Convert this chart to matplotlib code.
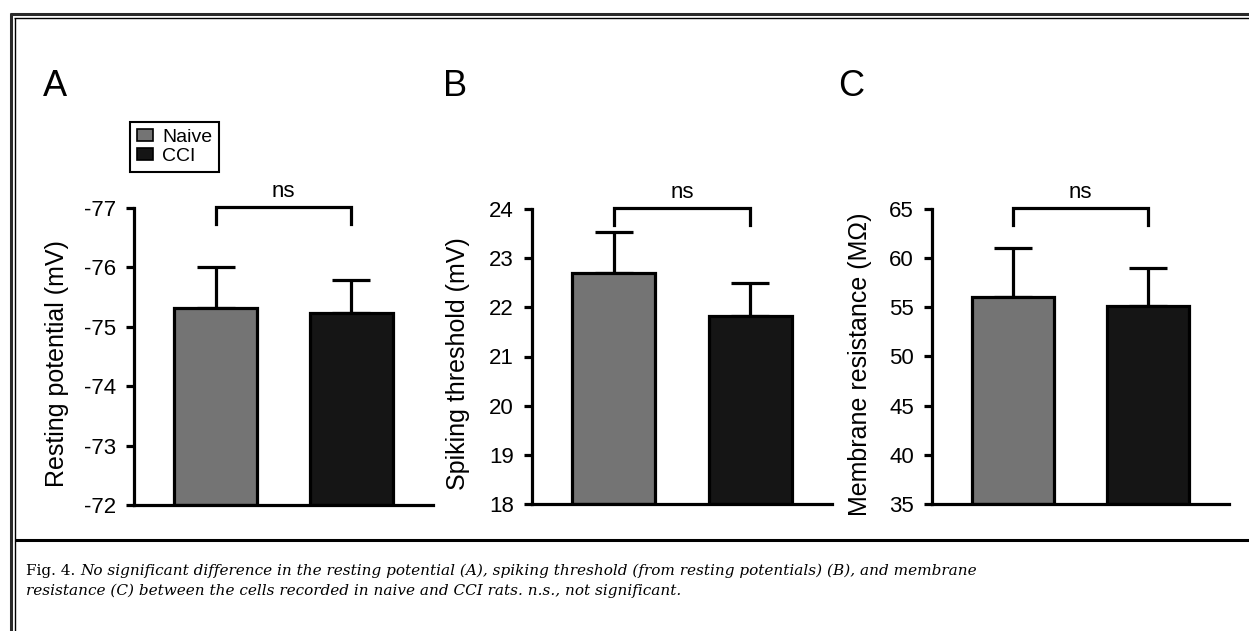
import numpy as np
import matplotlib
matplotlib.use("Agg")
import matplotlib.pyplot as plt
from matplotlib.lines import Line2D
from matplotlib.patches import Patch

plt.rcParams['font.family'] = ['Liberation Sans', 'DejaVu Sans']
plt.rcParams['axes.unicode_minus'] = False

# data (mean and SEM, one-sided error bars)
groups = ['Naive', 'CCI']
bar_colors = ['#747474', '#151515']

resting_mean = [-75.31, -75.24]
resting_sem = [0.69, 0.55]
threshold_mean = [22.70, 21.83]
threshold_sem = [0.84, 0.66]
resistance_mean = [56.1, 55.1]
resistance_sem = [4.9, 3.9]

panel_letters = ['A', 'B', 'C']
ylabels = ['Resting potential (mV)', 'Spiking threshold (mV)', 'Membrane resistance (M\u03a9)']
ylims = [(-72, -77), (18, 24), (35, 65)]
yticks = [np.arange(-77, -71), np.arange(18, 25), np.arange(35, 66, 5)]

caption_1a = 'Fig. 4. '
caption_1b = ('No significant difference in the resting potential (A), spiking threshold '
              '(from resting potentials) (B), and membrane')
caption_2 = 'resistance (C) between the cells recorded in naive and CCI rats. n.s., not significant.'

W, H = 1249, 631
fig = plt.figure(figsize=(W / 100, H / 100), dpi=100)


def px(x, y):
    # pixel coords (from top-left) -> figure fraction
    return x / W, 1 - y / H


# axes boxes in pixels: left, right, top, bottom
boxes = [(134, 433, 208, 505), (532, 832, 209, 504), (932, 1229, 209, 504)]
label_off = [65, 62, 60]
lw = 2.3

means = [resting_mean, threshold_mean, resistance_mean]
sems = [resting_sem, threshold_sem, resistance_sem]

axes = []
for i in range(3):
    l, r, t, b = boxes[i]
    ax = fig.add_axes([l / W, 1 - b / H, (r - l) / W, (b - t) / H])
    axes.append(ax)
    x = np.arange(len(groups))
    lo, hi = ylims[i]
    m = np.array(means[i])
    s = np.array(sems[i])
    # error bars toward the top of the panel
    if lo > hi:
        yerr = [s, np.zeros_like(s)]
    else:
        yerr = [np.zeros_like(s), s]
    ax.errorbar(x, m, yerr=yerr, fmt='none', ecolor='black', elinewidth=lw,
                capsize=14, capthick=lw, zorder=1)
    ax.bar(x, m - lo, bottom=lo, width=0.61, color=bar_colors,
           edgecolor='black', linewidth=lw, zorder=2)
    ax.set_ylim(lo, hi)
    ax.set_xlim(-0.6, 1.6)
    ax.set_yticks(yticks[i])
    ax.set_xticks([])
    for sp in ['top', 'right']:
        ax.spines[sp].set_visible(False)
    for sp in ['left', 'bottom']:
        ax.spines[sp].set_linewidth(lw)
    ax.tick_params(axis='y', width=lw, length=6, labelsize=16, pad=7)
    ax.set_ylabel(ylabels[i], fontsize=18)
    ax.yaxis.set_label_coords(-label_off[i] / (r - l), 0.475)

    # significance bracket
    tr = ax.get_xaxis_transform()
    ax.plot([0, 0, 1, 1], [0.946, 1.005, 1.005, 0.946], color='black', lw=lw,
            transform=tr, clip_on=False, solid_joinstyle='miter')
    ax.text(0.5, 1.02, 'ns', transform=tr, ha='center', va='bottom', fontsize=16)

# panel letters
for letter, xpx in zip(panel_letters, [43, 443, 838]):
    fx, fy = px(xpx, 87)
    fig.text(fx, fy, letter, fontsize=26, ha='left', va='center')

# legend
handles = [Patch(facecolor=c, edgecolor='black', linewidth=1.2) for c in bar_colors]
lx, ly = px(130, 122)
leg = fig.legend(handles, groups, loc='upper left', bbox_to_anchor=(lx, ly),
                 fontsize=14, frameon=True, fancybox=False, framealpha=1,
                 edgecolor='black', handlelength=0.85, handleheight=0.55,
                 handletextpad=0.45, borderpad=0.35, labelspacing=0.1,
                 borderaxespad=0)
leg.get_frame().set_linewidth(1.5)


# page frame lines
def hline(y, x0, x1, w, c):
    a, yy = px(x0, y)
    b, _ = px(x1, y)
    fig.add_artist(Line2D([a, b], [yy, yy], lw=w, color=c, solid_capstyle='butt',
                          transform=fig.transFigure))


def vline(x, y0, y1, w, c):
    xx, a = px(x, y0)
    _, b = px(x, y1)
    fig.add_artist(Line2D([xx, xx], [a, b], lw=w, color=c, solid_capstyle='butt',
                          transform=fig.transFigure))


hline(14, 10, W, 2.2, '#2a2a2a')
hline(18.3, 14.3, W, 1.0, 'black')
vline(11.3, 12.5, H, 2.2, '#2a2a2a')
vline(15, 17.8, H, 1.0, 'black')
hline(539.5, 15, W, 2.2, 'black')

# caption: roman figure number, italic text
cap_font = ['DejaVu Serif']
cx, cy = px(26, 571)
t1 = fig.text(cx, cy, caption_1a, fontsize=11, family=cap_font, va='center', ha='left')
fig.add_artist(plt.Annotation(caption_1b, xy=(1, 0.5), xycoords=t1, va='center',
                              ha='left', fontsize=11, family=cap_font, style='italic'))
cx2, cy2 = px(26, 591)
fig.text(cx2, cy2, caption_2, fontsize=11, family=cap_font, style='italic',
         va='center', ha='left')

fig.savefig('out.png', dpi=100)
